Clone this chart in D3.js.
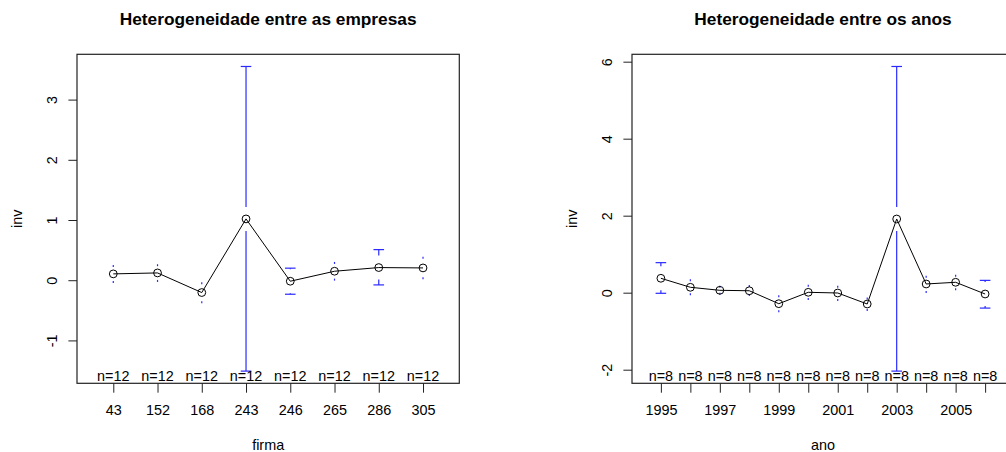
<!DOCTYPE html>
<html>
<head>
<meta charset="utf-8">
<script src="https://cdn.jsdelivr.net/npm/d3@7"></script>
<style>
  body { margin: 0; background: #fff; }
  svg text { font-family: "Liberation Sans", Arial, Helvetica, sans-serif; fill: #000; }
</style>
</head>
<body>
<div id="chart"></div>
<script>
// firmas (left panel)
const firmas = ["43", "152", "168", "243", "246", "265", "286", "305"]
const firmaMeans = [0.105, 0.121, -0.205, 1.018, -0.017, 0.149, 0.21, 0.204]
const firmaUpper = [0.237, 0.249, -0.05, 3.55, 0.2, 0.287, 0.508, 0.375]
const firmaLower = [-0.028, -0.012, -0.365, -1.51, -0.233, 0.01, -0.078, 0.033]
const firmaN = [12, 12, 12, 12, 12, 12, 12, 12]
const firmaYTicks = [-1, 0, 1, 2, 3]

// anos (right panel)
const anos = ["1995", "1996", "1997", "1998", "1999", "2000", "2001", "2002", "2003", "2004", "2005", "2006"]
const anoMeans = [0.374, 0.14, 0.062, 0.05, -0.286, 0.01, -0.008, -0.294, 1.914, 0.226, 0.27, -0.034]
const anoUpper = [0.78, 0.32, 0.155, 0.174, -0.094, 0.18, 0.156, -0.15, 5.875, 0.416, 0.44, 0.32]
const anoLower = [-0.016, -0.042, -0.03, -0.06, -0.483, -0.164, -0.19, -0.45, -2.037, 0.018, 0.088, -0.40]
const anoN = [8, 8, 8, 8, 8, 8, 8, 8, 8, 8, 8, 8]
const anoYTicks = [-2, 0, 2, 4, 6]
const anoTickLabels = ["1995", "", "1997", "", "1999", "", "2001", "", "2003", "", "2005", ""]

const fontSize = 14.4
const gap = 12      // gap of the error bar around the point, px
const smidge = 5.3  // half width of the bar caps

const svg = d3.select("#chart").append("svg")
  .attr("width", 1006)
  .attr("height", 452)

function plotMeans(p) {
  const n = p.cats.length
  const top = 54.3, bottom = 383.3
  const g = svg.append("g")

  // R style limits: 4% extension on each side
  const lo = d3.min(p.lower), hi = d3.max(p.upper)
  const d = hi - lo
  const y = d3.scaleLinear()
    .domain([lo - 0.04 * d, hi + 0.04 * d])
    .range([bottom, top])
  const x = d3.scaleLinear()
    .domain([0.5 - 0.04 * n, n + 0.5 + 0.04 * n])
    .range([p.left, p.left + p.width])

  const idx = d3.range(n)

  // title
  g.append("text")
    .attr("x", p.left + p.width / 2)
    .attr("y", 25)
    .attr("text-anchor", "middle")
    .attr("font-size", "17.3px")
    .attr("font-weight", "bold")
    .text(p.title)

  // axes
  const yAxis = g.append("g")
    .attr("transform", `translate(${p.left},0)`)
    .call(d3.axisLeft(y).tickValues(p.yTicks).tickSize(8.6).tickFormat(v => String(v)))
  yAxis.select(".domain").remove()
  yAxis.selectAll("line").attr("stroke", "#222")
  yAxis.selectAll("text")
    .attr("font-size", fontSize + "px")
    .attr("text-anchor", "middle")
    .attr("x", null).attr("dy", null)
    .attr("transform", "translate(-20,0) rotate(-90)")

  const xAxis = g.append("g")
    .attr("transform", `translate(0,${bottom})`)
    .call(d3.axisBottom(x).tickValues(idx.map(i => i + 1)).tickSize(9.4)
      .tickFormat((v, i) => p.tickLabels[i]))
  xAxis.select(".domain").remove()
  xAxis.selectAll("line").attr("stroke", "#222")
  xAxis.selectAll("text")
    .attr("font-size", fontSize + "px")
    .attr("dy", null)
    .attr("y", 32.2)

  // axis labels
  g.append("text")
    .attr("x", p.left + p.width / 2)
    .attr("y", 450)
    .attr("text-anchor", "middle")
    .attr("font-size", fontSize + "px")
    .text(p.xLabel)
  g.append("text")
    .attr("transform", `translate(${p.left - 55.3},${(top + bottom) / 2}) rotate(-90)`)
    .attr("text-anchor", "middle")
    .attr("font-size", fontSize + "px")
    .text("inv")

  // error bars
  const bars = g.append("g")
    .attr("stroke", "#2a2aff")
    .attr("stroke-width", 1.2)
    .attr("fill", "none")

  idx.forEach(i => {
    const cx = x(i + 1)
    const ym = y(p.means[i])
    // [end of bar, inner end at the gap, direction]
    const ends = [[y(p.upper[i]), ym - gap, 1], [y(p.lower[i]), ym + gap, -1]]
    ends.forEach(([yEnd, yIn, dir]) => {
      if ((yIn - yEnd) * dir > 0) {
        bars.append("line")
          .attr("x1", cx).attr("x2", cx)
          .attr("y1", yEnd).attr("y2", yIn)
        bars.append("line")
          .attr("x1", cx - smidge).attr("x2", cx + smidge)
          .attr("y1", yEnd).attr("y2", yEnd)
      } else {
        // zero length arrow, R leaves a dot
        bars.append("line")
          .attr("x1", cx).attr("x2", cx)
          .attr("y1", yEnd - 1).attr("y2", yEnd + 1)
      }
    })
  })

  // connecting line and points
  g.append("path")
    .datum(idx)
    .attr("fill", "none")
    .attr("stroke", "#000")
    .attr("stroke-width", 1)
    .attr("d", d3.line().x(i => x(i + 1)).y(i => y(p.means[i])))

  g.selectAll("circle.pt")
    .data(idx)
    .enter().append("circle")
    .attr("class", "pt")
    .attr("cx", i => x(i + 1))
    .attr("cy", i => y(p.means[i]))
    .attr("r", 3.9)
    .attr("fill", "none")
    .attr("stroke", "#000")
    .attr("stroke-width", 1)

  // n labels
  g.selectAll("text.nlab")
    .data(idx)
    .enter().append("text")
    .attr("class", "nlab")
    .attr("x", i => x(i + 1))
    .attr("y", bottom - 2.5)
    .attr("text-anchor", "middle")
    .attr("font-size", fontSize + "px")
    .text(i => "n=" + p.ns[i])

  // box
  g.append("rect")
    .attr("x", p.left)
    .attr("y", top)
    .attr("width", p.width)
    .attr("height", bottom - top)
    .attr("fill", "none")
    .attr("stroke", "#222")
    .attr("stroke-width", 1.2)
}

plotMeans({
  title: "Heterogeneidade entre as empresas", xLabel: "firma",
  cats: firmas, tickLabels: firmas, means: firmaMeans, upper: firmaUpper, lower: firmaLower,
  ns: firmaN, yTicks: firmaYTicks, left: 77, width: 382.3
})
plotMeans({
  title: "Heterogeneidade entre os anos", xLabel: "ano",
  cats: anos, tickLabels: anoTickLabels, means: anoMeans, upper: anoUpper, lower: anoLower,
  ns: anoN, yTicks: anoYTicks, left: 632, width: 382
})
</script>
</body>
</html>
